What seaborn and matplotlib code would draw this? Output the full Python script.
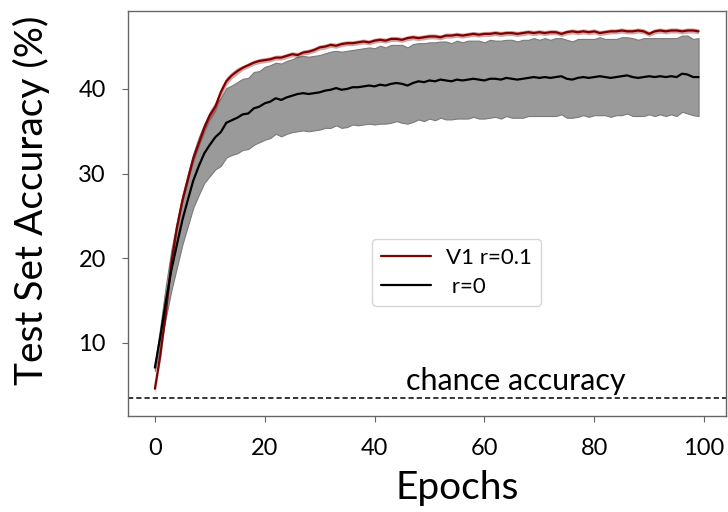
import numpy as np
import pandas as pd
import matplotlib
matplotlib.use("Agg")
import matplotlib.pyplot as plt
import seaborn as sns

# -------------------------------
# Data
# -------------------------------
epochs = list(range(100))

# V1 r=0.1 (mean and spread)
red_mean = [
    4.6, 8.6, 13.6, 19.5, 23.6, 26.8, 29.3, 31.8, 33.6, 35.4,
    36.9, 37.9, 39.6, 40.9, 41.6, 42.1, 42.5, 42.8, 43.1, 43.3,
    43.4, 43.5, 43.7, 43.7, 43.9, 44.1, 44.0, 44.3, 44.4, 44.6,
    44.9, 45.0, 45.2, 45.1, 45.3, 45.4, 45.4, 45.5, 45.6, 45.5,
    45.7, 45.8, 45.7, 45.9, 45.9, 45.8, 46.0, 46.1, 46.0, 46.1,
    46.2, 46.2, 46.1, 46.3, 46.3, 46.4, 46.3, 46.4, 46.5, 46.4,
    46.5, 46.5, 46.6, 46.5, 46.6, 46.6, 46.5, 46.6, 46.7, 46.6,
    46.7, 46.6, 46.7, 46.7, 46.5, 46.7, 46.8, 46.7, 46.8, 46.7,
    46.8, 46.6, 46.7, 46.8, 46.8, 46.9, 46.8, 46.8, 46.9, 46.8,
    46.5, 46.8, 46.9, 46.8, 46.9, 46.9, 46.8, 46.9, 46.9, 46.8,
]
red_std = [
    0.6, 0.6, 0.5, 0.5, 0.4, 0.4, 0.4, 0.5, 0.5, 0.6,
    0.6, 0.6, 0.6, 0.5, 0.4, 0.4, 0.3, 0.3, 0.3, 0.3,
] + [0.3] * 80

# r=0 (mean and spread)
black_mean = [
    7.1, 10.8, 14.9, 18.6, 21.6, 24.5, 26.9, 29.2, 30.9, 32.4,
    33.4, 34.3, 34.9, 36.0, 36.3, 36.6, 37.0, 37.1, 37.7, 37.9,
    38.3, 38.5, 38.9, 38.7, 39.0, 39.2, 39.4, 39.5, 39.4, 39.5,
    39.6, 39.8, 39.9, 40.1, 39.9, 40.0, 40.2, 40.2, 40.3, 40.4,
    40.3, 40.5, 40.4, 40.6, 40.7, 40.6, 40.4, 40.7, 40.9, 40.8,
    41.0, 40.9, 41.1, 41.0, 40.9, 41.1, 41.0, 41.1, 41.2, 41.1,
    41.0, 41.2, 41.2, 41.1, 41.3, 41.2, 41.1, 41.2, 41.3, 41.4,
    41.3, 41.4, 41.3, 41.4, 41.5, 41.2, 41.1, 41.3, 41.4, 41.3,
    41.4, 41.5, 41.4, 41.3, 41.4, 41.5, 41.6, 41.4, 41.3, 41.4,
    41.5, 41.4, 41.5, 41.4, 41.5, 41.4, 41.8, 41.7, 41.4, 41.4,
]
black_std = [
    0.4, 1.2, 1.9, 2.4, 2.7, 2.9, 3.1, 3.2, 3.4, 3.5,
    3.7, 3.8, 4.0, 4.1, 4.1, 4.2, 4.2, 4.2, 4.3, 4.2,
    4.3, 4.3, 4.2, 4.3, 4.3, 4.3, 4.4, 4.4, 4.4, 4.4,
    4.4, 4.4, 4.5, 4.4, 4.5, 4.5, 4.4, 4.5, 4.5, 4.5,
] + [4.5, 4.6] * 30

chance = 3.5

labels = ["V1 r=0.1", " r=0"]
x_ticks = [0, 20, 40, 60, 80, 100]
y_ticks = [10, 20, 30, 40]

df = pd.DataFrame({
    "epoch": epochs * 2,
    "acc": red_mean + black_mean,
    "model": [labels[0]] * 100 + [labels[1]] * 100,
})

# -------------------------------
# Plot
# -------------------------------
sns.set_style("white")
plt.rcParams["font.family"] = ["Lato", "DejaVu Sans"]
plt.rcParams["text.color"] = "black"
plt.rcParams["axes.labelcolor"] = "black"
plt.rcParams["xtick.labelcolor"] = "black"
plt.rcParams["ytick.labelcolor"] = "black"

fig = plt.figure(figsize=(7.28, 5.12), dpi=100)
ax = fig.add_axes([0.1758, 0.1875, 0.8215, 0.791])

ep = np.array(epochs)
bm = np.array(black_mean)
bs = np.array(black_std)
rm = np.array(red_mean)
rs = np.array(red_std)

ax.fill_between(ep, bm - bs, bm + bs, facecolor="#9a9a9a",
                edgecolor="#7a7a7a", linewidth=0.8, zorder=1)
ax.fill_between(ep, rm - rs, rm + rs, color="#800000", alpha=0.35,
                linewidth=0, zorder=3)

sns.lineplot(data=df, x="epoch", y="acc", hue="model",
             palette={labels[0]: "#800000", labels[1]: "black"},
             hue_order=labels, linewidth=1.6, ax=ax, zorder=4)

ax.axhline(chance, color="black", linestyle=(0, (3.4, 2.0)),
           linewidth=1.1, zorder=2)
ax.text(65.8, 4.45, "chance accuracy", fontsize=22, ha="center",
        va="baseline", color="black")

ax.set_xlim(-4.9, 104.0)
ax.set_ylim(1.38, 49.2)
ax.set_xticks(x_ticks)
ax.set_yticks(y_ticks)
ax.tick_params(axis="both", labelsize=17, length=4, width=0.8,
               color="#666666", direction="out", labelcolor="black")
ax.tick_params(axis="x", pad=12)
ax.tick_params(axis="y", pad=12)
ax.tick_params(bottom=True, left=True)

for s in ax.spines.values():
    s.set_color("#666666")
    s.set_linewidth(1.0)

ax.set_xlabel("Epochs", fontsize=28, color="black")
ax.set_ylabel("Test Set Accuracy (%)", fontsize=28, color="black")
ax.xaxis.set_label_coords(0.550, -0.133)
ax.yaxis.set_label_coords(-0.130, 0.533)

leg = ax.legend(loc="upper left", bbox_to_anchor=(0.408, 0.437),
                borderaxespad=0, fontsize=16, handlelength=2.25,
                handletextpad=0.7, labelspacing=0.4, frameon=True,
                edgecolor="#cccccc", fancybox=True)
for t in leg.get_texts():
    t.set_color("black")

fig.savefig("out.png", dpi=100)
